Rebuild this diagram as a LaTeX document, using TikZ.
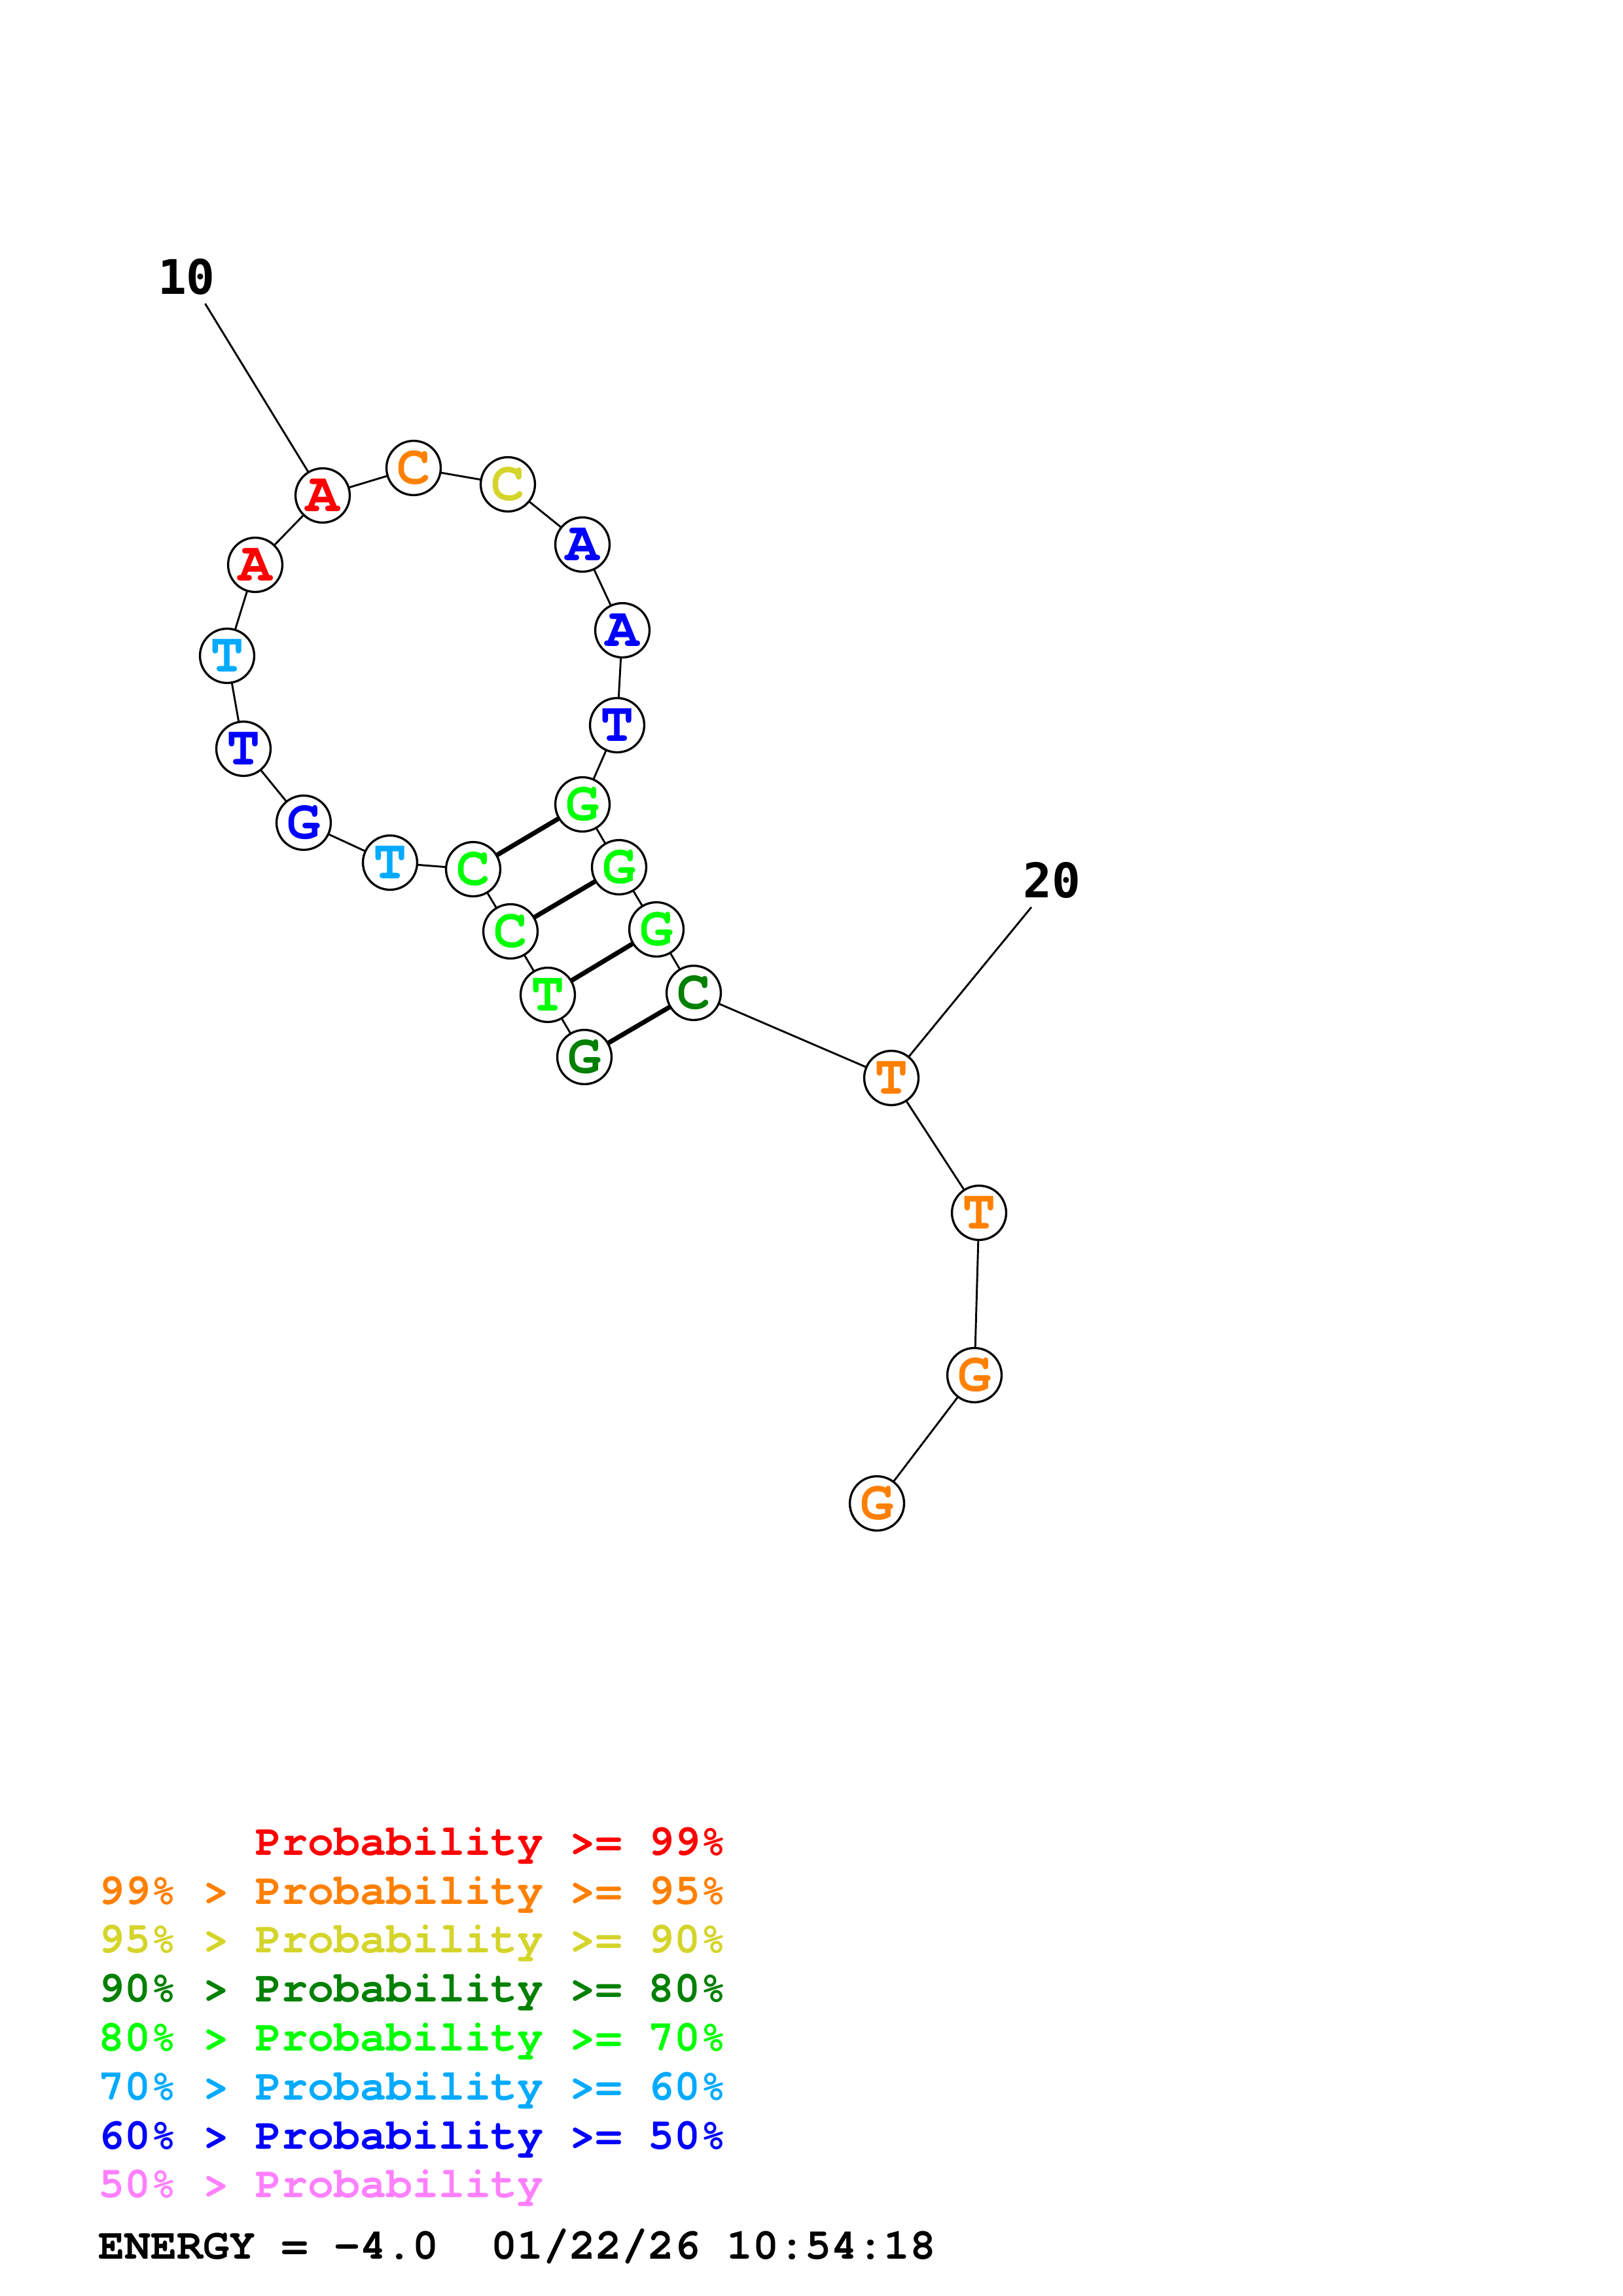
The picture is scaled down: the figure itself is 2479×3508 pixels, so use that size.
\documentclass[tikz,border=0pt]{standalone}
\usepackage{fontspec}
\newfontfamily\cour{texgyrecursor}[Extension=.otf,UprightFont=*-regular,BoldFont=*-bold]
\newfontfamily\djm{DejaVu Sans Mono}
\definecolor{pRed}{RGB}{255,0,0}
\definecolor{pOrange}{RGB}{255,128,0}
\definecolor{pYellow}{RGB}{212,212,42}
\definecolor{pDGreen}{RGB}{0,128,0}
\definecolor{pGreen}{RGB}{0,255,0}
\definecolor{pCyan}{RGB}{0,170,255}
\definecolor{pBlue}{RGB}{0,0,255}
\definecolor{pPink}{RGB}{255,128,255}
\begin{document}
\begin{tikzpicture}[x=0.24pt,y=-0.24pt,
  nuc/.style={circle,draw=black,line width=0.8pt,fill=white,minimum size=19.9pt,inner sep=0pt,font=\cour\bfseries\fontsize{20.5}{20.5}\selectfont},
  bb/.style={draw=black,line width=0.7pt},
  bpair/.style={draw=black,line width=1.7pt},
  numlab/.style={inner sep=0pt,font=\djm\bfseries\fontsize{17.5}{17.5}\selectfont},
  leg/.style={anchor=base west,inner sep=0pt,font=\cour\bfseries\fontsize{16}{16}\selectfont}]
\useasboundingbox (0,0) rectangle (2479,3508);
\fill[white] (0,0) rectangle (2479,3508);
% label line ends
\coordinate (e10) at (313.5,464);
\coordinate (e20) at (1576,1386);
% positions
\path (893,1615) coordinate (p1) (837,1520) coordinate (p2) (780,1423) coordinate (p3)
 (723,1328) coordinate (p4) (596,1318) coordinate (p5) (464,1257) coordinate (p6)
 (372,1144) coordinate (p7) (347,1002) coordinate (p8) (390,863) coordinate (p9)
 (493,757) coordinate (p10) (632,715) coordinate (p11) (776,740) coordinate (p12)
 (890,832) coordinate (p13) (951,963) coordinate (p14) (943,1108) coordinate (p15)
 (890,1229) coordinate (p16) (946,1325) coordinate (p17) (1003,1420) coordinate (p18)
 (1060,1517) coordinate (p19) (1362,1647) coordinate (p20) (1496,1853) coordinate (p21)
 (1489,2101) coordinate (p22) (1340,2297) coordinate (p23);
\draw[bb] (p10) -- (e10);
\draw[bb] (p20) -- (e20);
\foreach \a/\b in {1/2,2/3,3/4,4/5,5/6,6/7,7/8,8/9,9/10,10/11,11/12,12/13,13/14,14/15,15/16,16/17,17/18,18/19,19/20,20/21,21/22,22/23}
  \draw[bb] (p\a) -- (p\b);
\foreach \a/\b in {4/16,3/17,2/18,1/19}
  \draw[bpair] (p\a) -- (p\b);
% nucleotides
\node[nuc,text=pDGreen] (n1) at (p1) {G};
\node[nuc,text=pGreen] (n2) at (p2) {T};
\node[nuc,text=pGreen] (n3) at (p3) {C};
\node[nuc,text=pGreen] (n4) at (p4) {C};
\node[nuc,text=pCyan] (n5) at (p5) {T};
\node[nuc,text=pBlue] (n6) at (p6) {G};
\node[nuc,text=pBlue] (n7) at (p7) {T};
\node[nuc,text=pCyan] (n8) at (p8) {T};
\node[nuc,text=pRed] (n9) at (p9) {A};
\node[nuc,text=pRed] (n10) at (p10) {A};
\node[nuc,text=pOrange] (n11) at (p11) {C};
\node[nuc,text=pYellow] (n12) at (p12) {C};
\node[nuc,text=pBlue] (n13) at (p13) {A};
\node[nuc,text=pBlue] (n14) at (p14) {A};
\node[nuc,text=pBlue] (n15) at (p15) {T};
\node[nuc,text=pGreen] (n16) at (p16) {G};
\node[nuc,text=pGreen] (n17) at (p17) {G};
\node[nuc,text=pGreen] (n18) at (p18) {G};
\node[nuc,text=pDGreen] (n19) at (p19) {C};
\node[nuc,text=pOrange] (n20) at (p20) {T};
\node[nuc,text=pOrange] (n21) at (p21) {T};
\node[nuc,text=pOrange] (n22) at (p22) {G};
\node[nuc,text=pOrange] (n23) at (p23) {G};
% index labels
\node[numlab] (l10) at (285,423) {10};
\node[numlab] (l20) at (1607,1345) {20};
% legend
\node[leg,text=pRed] (g1) at (150,2834) {\hphantom{99\% > }Probability >= 99\%};
\node[leg,text=pOrange] (g2) at (150,2909) {99\% > Probability >= 95\%};
\node[leg,text=pYellow] (g3) at (150,2983) {95\% > Probability >= 90\%};
\node[leg,text=pDGreen] (g4) at (150,3058) {90\% > Probability >= 80\%};
\node[leg,text=pGreen] (g5) at (150,3133) {80\% > Probability >= 70\%};
\node[leg,text=pCyan] (g6) at (150,3208) {70\% > Probability >= 60\%};
\node[leg,text=pBlue] (g7) at (150,3283) {60\% > Probability >= 50\%};
\node[leg,text=pPink] (g8) at (150,3357) {50\% > Probability};
\node[leg,text=black] (en) at (150,3451) {ENERGY = -4.0~~01/22/26 10:54:18};
\end{tikzpicture}
\end{document}
